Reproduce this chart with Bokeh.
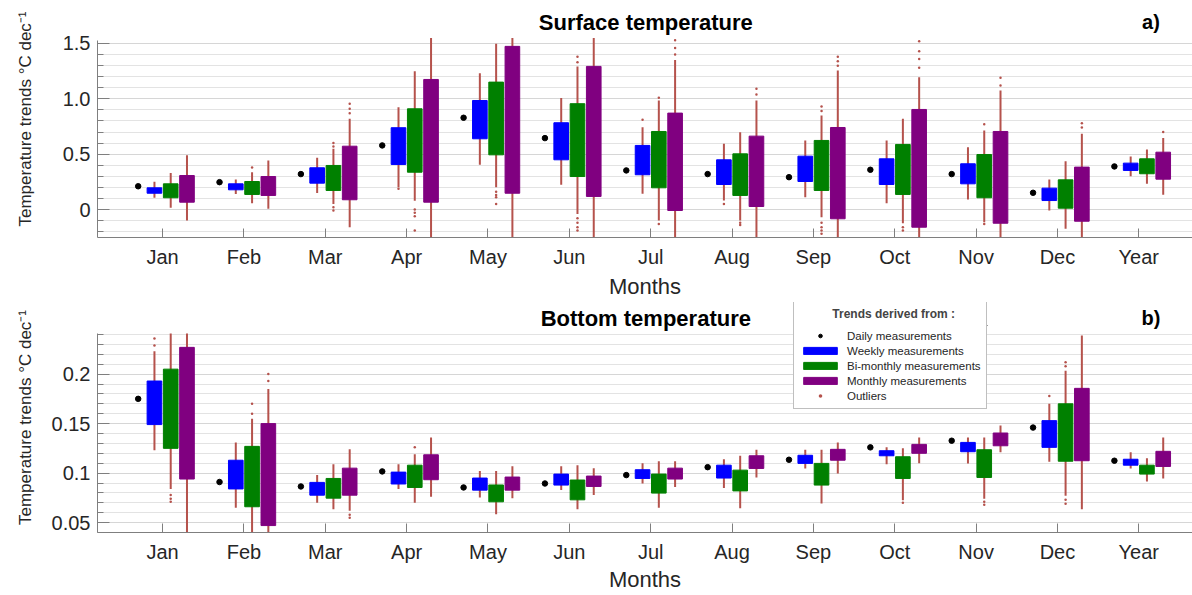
import numpy as np
from bokeh.plotting import figure
from bokeh.models import Range1d, FixedTicker, Label, Legend, LegendItem, BoxAnnotation
from bokeh.layouts import column
from bokeh.embed import file_html
from bokeh.resources import INLINE

months = ["Jan", "Feb", "Mar", "Apr", "May", "Jun", "Jul", "Aug", "Sep", "Oct", "Nov", "Dec", "Year"]

# ---------------- Surface temperature (panel a) ----------------
s_daily   = [0.21, 0.247, 0.32, 0.579, 0.829, 0.645, 0.353, 0.32, 0.292, 0.359, 0.32, 0.151, 0.389]
s_week_q1 = [0.147, 0.178, 0.238, 0.407, 0.639, 0.449, 0.314, 0.226, 0.253, 0.226, 0.232, 0.081, 0.353]
s_week_q3 = [0.196, 0.232, 0.377, 0.739, 0.985, 0.784, 0.579, 0.449, 0.482, 0.458, 0.413, 0.193, 0.419]
s_week_lo = [0.106, 0.14, 0.15, 0.2, 0.404, 0.223, 0.142, 0.081, 0.111, 0.057, 0.09, -0.009, 0.301]
s_week_hi = [0.25, 0.27, 0.467, 0.925, 1.232, 1.007, 0.744, 0.594, 0.624, 0.624, 0.563, 0.271, 0.479]
s_bim_q1  = [0.106, 0.136, 0.172, 0.337, 0.494, 0.298, 0.196, 0.127, 0.172, 0.136, 0.106, 0.012, 0.323]
s_bim_q3  = [0.232, 0.253, 0.398, 0.91, 1.151, 0.956, 0.705, 0.503, 0.624, 0.588, 0.497, 0.268, 0.458]
s_bim_lo  = [0.015, 0.057, 0.05, 0.08, 0.2, -0.04, -0.1, -0.1, -0.07, -0.124, -0.115, -0.175, 0.232]
s_bim_hi  = [0.33, 0.337, 0.55, 1.25, 1.498, 1.293, 0.985, 0.699, 0.85, 0.82, 0.714, 0.437, 0.543]
s_mon_q1  = [0.066, 0.127, 0.088, 0.066, 0.147, 0.118, -0.009, 0.027, -0.084, -0.16, -0.124, -0.106, 0.274]
s_mon_q3  = [0.307, 0.298, 0.572, 1.175, 1.474, 1.293, 0.871, 0.663, 0.741, 0.904, 0.705, 0.383, 0.518]
s_mon_lo  = [-0.1, 0.006, -0.16, -0.45, -0.5, -0.5, -0.4, -0.38, -0.42, -0.48, -0.42, -0.35, 0.133]
s_mon_hi  = [0.49, 0.443, 0.82, 1.55, 1.55, 1.55, 1.35, 0.985, 1.257, 1.196, 1.076, 0.684, 0.645]

# outliers: month number (1..13), series, value
s_out_month = [2, 3, 3, 3, 3, 3, 3, 3, 4, 4, 4, 4, 4, 5, 5, 5, 5,
               6, 6, 6, 6, 6, 6, 7, 7, 7, 7, 7, 7, 8, 8, 8, 8, 8,
               9, 9, 9, 9, 9, 9, 9, 9, 9, 10, 10, 10, 10, 10, 10,
               11, 11, 11, 11, 12, 12, 13]
s_out_series = ["bim", "bim", "bim", "bim", "bim", "mon", "mon", "mon", "week", "bim", "bim", "bim", "bim", "bim", "bim", "bim", "bim",
                "bim", "bim", "bim", "bim", "bim", "bim", "week", "bim", "bim", "mon", "mon", "mon", "week", "bim", "bim", "mon", "mon",
                "bim", "bim", "bim", "bim", "bim", "bim", "mon", "mon", "mon", "bim", "bim", "mon", "mon", "mon", "mon",
                "bim", "bim", "mon", "mon", "mon", "mon", "mon"]
s_out_value = [0.38, 0.57, 0.60, 0.02, -0.01, 0.87, 0.91, 0.955, 0.187, 0.0, -0.03, -0.06, -0.19, 0.16, 0.13, 0.11, 0.05,
               1.33, 1.38, -0.08, -0.12, -0.16, -0.19, 0.81, 1.01, -0.13, 1.40, 1.46, 1.53, 0.05, -0.12, -0.14, 1.04, 1.09,
               0.89, 0.93, -0.12, -0.16, -0.19, -0.22, 1.30, 1.34, 1.38, -0.16, -0.19, 1.28, 1.36, 1.43, 1.52,
               0.77, -0.13, 1.12, 1.19, 0.74, 0.78, 0.70]

# ---------------- Bottom temperature (panel b) ----------------
b_daily   = [0.175, 0.091, 0.0865, 0.1017, 0.0855, 0.0895, 0.098, 0.106, 0.1135, 0.126, 0.1327, 0.146, 0.1125]
b_week_q1 = [0.149, 0.084, 0.0777, 0.089, 0.0828, 0.0879, 0.0946, 0.095, 0.1098, 0.1175, 0.1216, 0.126, 0.108]
b_week_q3 = [0.193, 0.113, 0.0906, 0.101, 0.095, 0.099, 0.1034, 0.108, 0.118, 0.1226, 0.131, 0.153, 0.114]
b_week_lo = [0.123, 0.065, 0.070, 0.084, 0.0754, 0.083, 0.0895, 0.085, 0.1047, 0.109, 0.1098, 0.1115, 0.1047]
b_week_hi = [0.223, 0.131, 0.098, 0.109, 0.102, 0.107, 0.11, 0.114, 0.1236, 0.126, 0.136, 0.17, 0.121]
b_bim_q1  = [0.125, 0.066, 0.0747, 0.0855, 0.071, 0.073, 0.0798, 0.082, 0.0879, 0.0946, 0.0956, 0.112, 0.099]
b_bim_q3  = [0.205, 0.127, 0.0946, 0.108, 0.088, 0.093, 0.099, 0.103, 0.1098, 0.1165, 0.1236, 0.17, 0.108]
b_bim_lo  = [0.084, 0.03, 0.0636, 0.070, 0.0585, 0.0636, 0.065, 0.0646, 0.0693, 0.0727, 0.074, 0.077, 0.0916]
b_bim_hi  = [0.241, 0.155, 0.109, 0.119, 0.102, 0.108, 0.112, 0.1175, 0.1236, 0.125, 0.136, 0.2035, 0.115]
b_mon_q1  = [0.094, 0.047, 0.0777, 0.0933, 0.0828, 0.0865, 0.094, 0.1047, 0.113, 0.12, 0.1276, 0.1125, 0.1067]
b_mon_q3  = [0.227, 0.150, 0.105, 0.1185, 0.096, 0.097, 0.105, 0.1175, 0.124, 0.129, 0.1405, 0.1856, 0.122]
b_mon_lo  = [0.02, 0.02, 0.062, 0.076, 0.0747, 0.078, 0.086, 0.0956, 0.0997, 0.11, 0.121, 0.0636, 0.0946]
b_mon_hi  = [0.241, 0.185, 0.124, 0.136, 0.107, 0.105, 0.112, 0.1236, 0.131, 0.136, 0.148, 0.239, 0.136]

b_out_month = [1, 1, 1, 1, 1, 2, 2, 2, 2, 3, 3, 4, 10, 11, 11, 12, 12, 12, 12, 12]
b_out_series = ["week", "week", "bim", "bim", "bim", "bim", "bim", "mon", "mon", "mon", "mon", "bim", "bim", "bim", "bim",
                "week", "bim", "bim", "bim", "bim"]
b_out_value = [0.229, 0.236, 0.078, 0.074, 0.071, 0.16, 0.17, 0.193, 0.2, 0.058, 0.055, 0.126, 0.070, 0.071, 0.068,
               0.178, 0.208, 0.212, 0.073, 0.069]

# ---------------- styling ----------------
FONT = "Liberation Sans"
COL = {"week": "#0000FF", "bim": "#008000", "mon": "#800080"}
OFF = {"daily": -0.3, "week": -0.1, "bim": 0.1, "mon": 0.3}
WHISK = "#B5524C"
BOXW = 0.18


def make_panel(height, border_bottom, xlabel_standoff, yr, ybounds, yticks, ylabels, yminor, label_standoff,
               daily, stats, out_m, out_s, out_v, title, tag, title_y):
    p = figure(width=1192, height=height, x_range=Range1d(0.2, 13.66), y_range=Range1d(*yr),
               output_backend="svg", toolbar_location=None, title=None,
               min_border_left=97, min_border_right=0, min_border_top=0, min_border_bottom=border_bottom)
    p.outline_line_color = None
    p.background_fill_color = "white"
    p.border_fill_color = "white"
    idx = np.arange(1, len(months) + 1)

    renderers = {}
    for key in ["week", "bim", "mon"]:
        q1, q3, lo, hi = stats[key]
        xs = idx + OFF[key]
        p.segment(x0=xs, y0=lo, x1=xs, y1=hi, line_color=WHISK, line_width=2)
    for key in ["week", "bim", "mon"]:
        q1, q3, lo, hi = stats[key]
        xs = idx + OFF[key]
        renderers[key] = p.vbar(x=xs, width=BOXW, bottom=q1, top=q3, fill_color=COL[key],
                                line_color=COL[key], line_width=1)
    ox = np.array(out_m, dtype=float) + np.array([OFF[s] for s in out_s])
    renderers["out"] = p.scatter(x=ox, y=out_v, size=2.5, marker="circle", fill_color=WHISK,
                                 line_color=None)
    renderers["daily"] = p.scatter(x=idx + OFF["daily"], y=daily, size=5.5, marker="circle",
                                   fill_color="black", line_color="black")

    # axes
    xa = p.xaxis[0]
    xa.ticker = FixedTicker(ticks=list(idx), minor_ticks=[])
    xa.major_label_overrides = {int(i): m for i, m in zip(idx, months)}
    xa.major_tick_in = 9
    xa.major_tick_out = 0
    xa.minor_tick_in = 0
    xa.minor_tick_out = 0
    xa.axis_line_color = "#7F7F7F"
    xa.major_tick_line_color = "#7F7F7F"
    xa.major_label_text_font = FONT
    xa.major_label_text_font_size = "20px"
    xa.major_label_text_color = "#262626"
    xa.major_label_standoff = 8
    xa.axis_label = "Months"
    xa.axis_label_text_font = FONT
    xa.axis_label_text_font_size = "22px"
    xa.axis_label_text_font_style = "normal"
    xa.axis_label_text_color = "#262626"
    xa.axis_label_standoff = xlabel_standoff

    ya = p.yaxis[0]
    ya.bounds = ybounds
    ya.ticker = FixedTicker(ticks=yticks, minor_ticks=yminor)
    ya.major_label_overrides = dict(zip(yticks, ylabels))
    ya.major_tick_in = 12
    ya.major_tick_out = 0
    ya.minor_tick_in = 6
    ya.minor_tick_out = 0
    ya.axis_line_color = "#7F7F7F"
    ya.major_tick_line_color = "#7F7F7F"
    ya.minor_tick_line_color = "#7F7F7F"
    ya.major_label_text_font = FONT
    ya.major_label_text_font_size = "20px"
    ya.major_label_text_color = "#262626"
    ya.major_label_standoff = 7
    ya.axis_label = "Temperature trends °C dec\u207b\u00b9"
    ya.axis_label_text_font = FONT
    ya.axis_label_text_font_size = "17px"
    ya.axis_label_text_font_style = "normal"
    ya.axis_label_text_color = "#262626"
    ya.axis_label_standoff = label_standoff

    p.xgrid.grid_line_color = None
    p.ygrid.bounds = ybounds
    p.ygrid.grid_line_color = "#D6D6D6"
    p.ygrid.grid_line_width = 1
    p.ygrid.minor_grid_line_color = "#E3E3E3"
    p.ygrid.minor_grid_line_width = 1

    p.add_layout(Label(x=6.94, y=title_y, text=title, text_align="center", text_baseline="middle",
                       text_font=FONT, text_font_size="22px", text_font_style="bold", text_color="black"))
    p.add_layout(Label(x=13.15, y=title_y, text=tag, text_align="center", text_baseline="middle",
                       text_font=FONT, text_font_size="20px", text_font_style="bold", text_color="black"))
    return p, renderers


s_stats = {"week": (s_week_q1, s_week_q3, s_week_lo, s_week_hi),
           "bim": (s_bim_q1, s_bim_q3, s_bim_lo, s_bim_hi),
           "mon": (s_mon_q1, s_mon_q3, s_mon_lo, s_mon_hi)}
b_stats = {"week": (b_week_q1, b_week_q3, b_week_lo, b_week_hi),
           "bim": (b_bim_q1, b_bim_q3, b_bim_lo, b_bim_hi),
           "mon": (b_mon_q1, b_mon_q3, b_mon_lo, b_mon_hi)}

s_ticks = [0, 0.5, 1, 1.5]
s_tick_labels = ["0", "0.5", "1.0", "1.5"]
s_minor = [round(-0.2 + 0.1 * i, 2) for i in range(18)]
b_ticks = [0.05, 0.1, 0.15, 0.2]
b_tick_labels = ["0.05", "0.1", "0.15", "0.2"]
b_minor = [round(0.04 + 0.01 * i, 2) for i in range(21)]

# panel a: frame spans page y 0..237, axis part -0.253..1.53 (110.67 px per unit)
p1, r1 = make_panel(302, 65, 3, (-0.253, -0.253 + 237 / 110.67), (-0.253, 1.53), s_ticks, s_tick_labels, s_minor, 25,
                    s_daily, s_stats, s_out_month, s_out_series, s_out_value,
                    "Surface temperature", "a)", 1.693)
# panel b: frame spans page y 302..532, axis part 0.04..0.241 (990 px per unit)
p2, r2 = make_panel(293, 63, 1, (0.04, 0.04 + 230 / 990.0), (0.04, 0.241), b_ticks, b_tick_labels, b_minor, 14,
                    b_daily, b_stats, b_out_month, b_out_series, b_out_value,
                    "Bottom temperature", "b)", 0.2562)

nb = "\u00a0" * 10
legend = Legend(items=[
    LegendItem(label="Daily measurements", renderers=[r2["daily"]]),
    LegendItem(label="Weekly measurements", renderers=[r2["week"]]),
    LegendItem(label="Bi-monthly measurements", renderers=[r2["bim"]]),
    LegendItem(label="Monthly measurements", renderers=[r2["mon"]]),
    LegendItem(label="Outliers", renderers=[r2["out"]]),
], location=(696, 123), title=nb + "Trends derived from :", title_text_font=FONT,
    title_text_font_size="12px", title_text_font_style="bold", title_standoff=7,
    label_text_font=FONT, label_text_font_size="11.5px", label_text_color="#262626",
    label_height=15, glyph_height=9, glyph_width=42, label_standoff=6, spacing=0,
    padding=5, margin=0, border_line_color="#7F7F7F", border_line_width=1,
    background_fill_color="white", background_fill_alpha=1)
p2.add_layout(legend)
p2.add_layout(BoxAnnotation(left=8.758, right=11.144, bottom=0.2486, top=0.2496,
                            fill_color="#8A8A8A", fill_alpha=1, line_color=None))

layout = column(p1, p2, spacing=0)
open("out.html", "w").write(file_html(layout, INLINE))
